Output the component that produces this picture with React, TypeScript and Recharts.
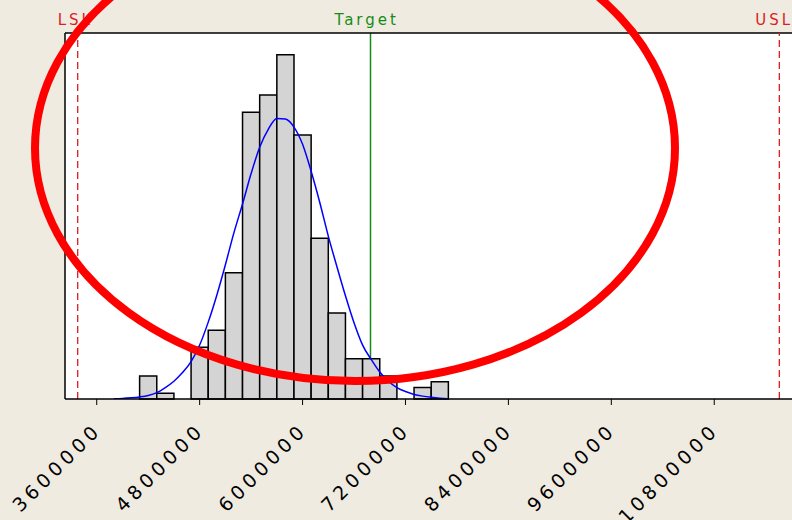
import { ComposedChart, Line, XAxis, YAxis, CartesianGrid, ReferenceArea, ReferenceLine } from "recharts";

// histogram bins (left edge of each 200 000 wide bin) and their counts
const binStart = [
  4100000, 4300000, 4500000, 4700000, 4900000, 5100000, 5300000, 5500000, 5700000,
  5900000, 6100000, 6300000, 6500000, 6700000, 6900000, 7100000, 7300000, 7500000,
];
const binCount = [4, 1, 0, 9, 12, 22, 50, 53, 60, 46, 28, 15, 7, 7, 4, 0, 2, 3];
const binWidth = 200000;

// fitted normal curve, in count units
const curveX = [
  3800000, 3900000, 4000000, 4100000, 4200000, 4300000, 4400000, 4500000, 4600000, 4700000,
  4800000, 4900000, 5000000, 5100000, 5200000, 5300000, 5400000, 5500000, 5600000, 5700000,
  5800000, 5900000, 6000000, 6100000, 6200000, 6300000, 6400000, 6500000, 6600000, 6700000,
  6800000, 6900000, 7000000, 7100000, 7200000, 7300000, 7400000, 7500000, 7600000, 7700000,
];
const curveY = [
  0.05, 0.1, 0.2, 0.35, 0.6, 1.1, 2.0, 3.1, 4.6, 6.5,
  9.4, 13.4, 18.1, 23.4, 29.0, 34.0, 39.3, 43.9, 47.0, 48.9,
  48.8, 47.4, 44.4, 39.7, 34.3, 28.4, 23.1, 18.0, 13.3, 9.4,
  6.9, 4.7, 3.1, 2.0, 1.3, 0.8, 0.5, 0.3, 0.15, 0.05,
];

const xTicks = [3600000, 4800000, 6000000, 7200000, 8400000, 9600000, 10800000];

const LSL = 3378000;
const USL = 11559000;
const TARGET = 6792000;

const X_DOMAIN = [3230000, 11800000];
const Y_MAX = 63.8;

const curve = curveX.map((x, i) => ({ x, y: curveY[i] }));
const bins = binStart.map((x, i) => ({ x1: x, x2: x + binWidth, count: binCount[i] }));

const FONT = "DejaVu Sans, Verdana, sans-serif";

const AxisTick = ({ x, y, payload }: any) => {
  const ax = x + 6;
  const ay = y + 24;
  return (
    <text
      x={ax}
      y={ay}
      transform={`rotate(-45 ${ax} ${ay})`}
      textAnchor="end"
      fontSize={19}
      letterSpacing={4.5}
      fill="#000"
      fontFamily={FONT}
    >
      {payload.value}
    </text>
  );
};

const specLabel = (text: string, color: string, shift: number) => (props: any) => {
  const vb = props.viewBox || {};
  return (
    <text x={vb.x + shift} y={vb.y - 8} fill={color} fontSize={15} letterSpacing={3} fontFamily={FONT}>
      {text}
    </text>
  );
};

export default function App() {
  return (
    <div
      style={{
        position: "absolute",
        left: 0,
        top: 0,
        width: 792,
        height: 520,
        overflow: "hidden",
        background: "#EFEBE1",
      }}
    >
      <ComposedChart width={800} height={520} margin={{ top: 33, right: 0, left: 65, bottom: 0 }}>
        <CartesianGrid fill="#fff" horizontal={false} vertical={false} />
        <XAxis
          type="number"
          dataKey="x"
          domain={X_DOMAIN}
          allowDataOverflow
          ticks={xTicks}
          height={121}
          tickSize={6}
          tickLine={{ stroke: "#000" }}
          axisLine={{ stroke: "#000", strokeWidth: 1.5 }}
          tick={<AxisTick />}
          interval={0}
        />
        <YAxis type="number" domain={[0, Y_MAX]} allowDataOverflow width={0} tick={false} tickLine={false} axisLine={false} />
        {/* plot frame: top and left edges */}
        <ReferenceLine y={Y_MAX} stroke="#000" strokeWidth={1.5} />
        <ReferenceLine x={X_DOMAIN[0]} stroke="#000" strokeWidth={1.5} />
        <ReferenceLine
          x={TARGET}
          stroke="#168C16"
          strokeWidth={1.5}
          zIndex={50}
          label={specLabel("Target", "#168C16", -36)}
        />
        {bins
          .filter((b) => b.count > 0)
          .map((b) => (
            <ReferenceArea
              key={b.x1}
              x1={b.x1}
              x2={b.x2}
              y1={0}
              y2={b.count}
              fill="#D4D4D4"
              fillOpacity={1}
              stroke="#000"
              strokeWidth={1.5}
              zIndex={100}
            />
          ))}
        <Line
          data={curve}
          dataKey="y"
          type="monotone"
          stroke="#0000FF"
          strokeWidth={1.5}
          dot={false}
          activeDot={false}
          isAnimationActive={false}
          zIndex={400}
        />
        <ReferenceLine
          x={LSL}
          stroke="#DC1E1E"
          strokeWidth={1.3}
          strokeDasharray="7 4"
          label={specLabel("LSL", "#DC1E1E", -20)}
        />
        <ReferenceLine
          x={USL}
          stroke="#DC1E1E"
          strokeWidth={1.3}
          strokeDasharray="7 4"
          label={specLabel("USL", "#DC1E1E", -24)}
        />
      </ComposedChart>
      <svg
        width={792}
        height={520}
        style={{ position: "absolute", left: 0, top: 0, pointerEvents: "none" }}
      >
        <ellipse cx={355} cy={148} rx={320} ry={233} fill="none" stroke="#FF0000" strokeWidth={8} />
      </svg>
    </div>
  );
}
